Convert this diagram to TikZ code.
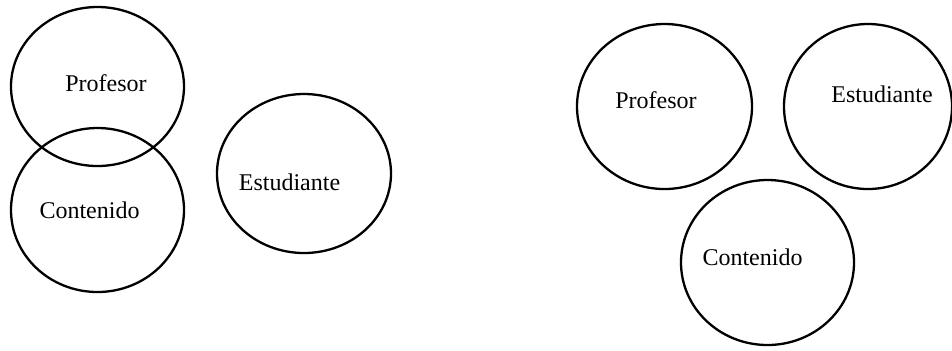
\documentclass[tikz,border=0pt]{standalone}
\usepackage{fontspec}
\setmainfont{Liberation Serif}
\usetikzlibrary{shapes.geometric}
\begin{document}
\begin{tikzpicture}[x=0.5pt, y=-0.5pt,
  ring/.style={draw=black, line width=1.15pt, ellipse, inner sep=0pt, minimum width=#1},
  word/.style={font=\fontsize{12}{14}\selectfont, anchor=base, inner sep=0pt}]
\useasboundingbox (0,0) rectangle (952,350);
% left group: Profesor overlapping Contenido, Estudiante apart
\node[ring=86.5pt, minimum height=79.5pt] (pl) at (97.5,86.5) {};
\node[ring=86.5pt, minimum height=82pt] (cl) at (97.5,210) {};
\node[ring=87pt, minimum height=79.5pt] (el) at (304,173.5) {};
\node[word] (tpl) at (106,91) {Profesor};
\node[word] (tcl) at (89.5,218) {Contenido};
\node[word] (tel) at (289.5,190) {Estudiante};
% right group: three separate circles
\node[ring=87.5pt, minimum height=82.5pt] (pr) at (664.5,106.5) {};
\node[ring=84pt, minimum height=82.5pt] (er) at (868,106.5) {};
\node[ring=86.5pt, minimum height=82.5pt] (cr) at (767.5,262.5) {};
\node[word] (tpr) at (656,108.5) {Profesor};
\node[word] (ter) at (882,102) {Estudiante};
\node[word] (tcr) at (752.5,265) {Contenido};
\end{tikzpicture}
\end{document}
